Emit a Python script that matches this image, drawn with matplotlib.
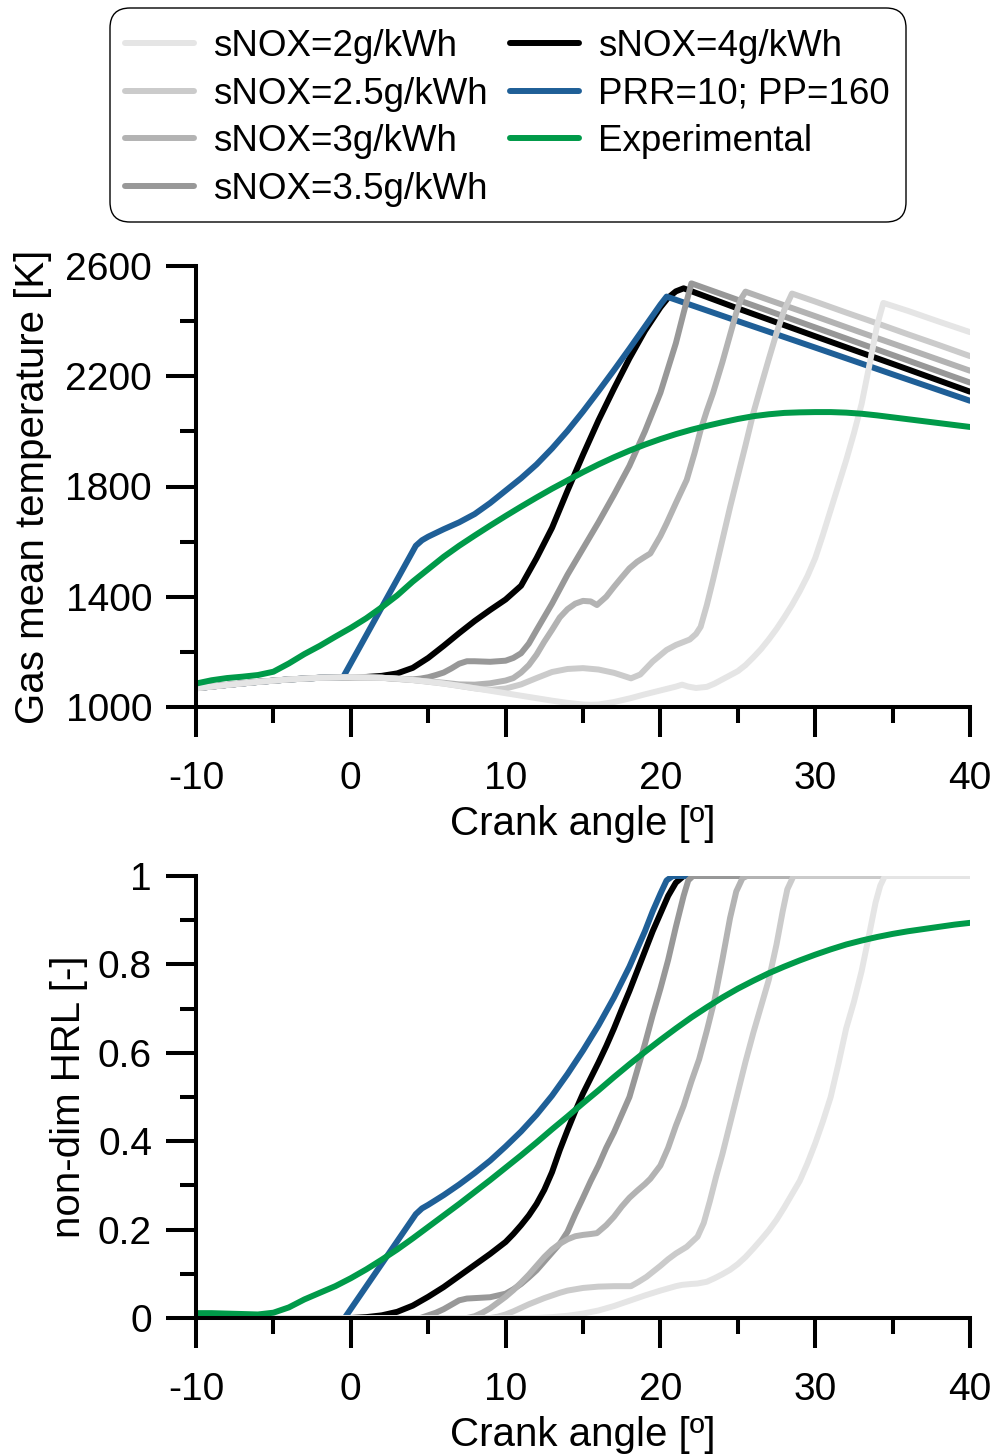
import matplotlib
matplotlib.use("Agg")
import matplotlib.pyplot as plt
from matplotlib.ticker import MultipleLocator, FixedLocator, FixedFormatter
from matplotlib.patches import FancyBboxPatch
from matplotlib.transforms import IdentityTransform

plt.rcParams['font.family'] = ['Liberation Sans', 'DejaVu Sans']
plt.rcParams['axes.unicode_minus'] = False

# ---------------- data ----------------
labels = ["sNOX=2g/kWh", "sNOX=2.5g/kWh", "sNOX=3g/kWh", "sNOX=3.5g/kWh",
          "sNOX=4g/kWh", "PRR=10; PP=160", "Experimental"]
colors = ["#e5e5e5", "#cbcbcb", "#b3b3b3", "#989898", "#000000", "#1f5f97", "#009a49"]

# Gas mean temperature [K]
ca_t_2 = [-10, -8, -6, -4, -2, 0, 2, 3, 4, 5, 6, 7, 8, 9, 10, 11, 12, 13, 14, 15, 15.5, 16, 17, 18, 19, 20, 21, 21.4, 21.8, 22.3, 23, 23.5, 24, 24.5, 25, 25.5, 26, 26.5, 27, 27.5, 28, 28.5, 29, 29.5, 30, 30.5, 31, 31.5, 32, 32.5, 33, 33.5, 34, 34.4, 36, 38, 40]
T_2 = [1068, 1080, 1091, 1100, 1106, 1108, 1106, 1103, 1098, 1092, 1085, 1077, 1068, 1059, 1050, 1041, 1032, 1023, 1015, 1009, 1008, 1009, 1018, 1031, 1046, 1060, 1074, 1081, 1074, 1069, 1073, 1085, 1100, 1115, 1130, 1152, 1180, 1210, 1245, 1283, 1325, 1370, 1420, 1475, 1540, 1625, 1715, 1805, 1895, 1993, 2100, 2240, 2385, 2466, 2437, 2398, 2360]

ca_t_25 = [-10, -8, -6, -4, -2, 0, 2, 4, 6, 8, 9, 10, 11, 12, 13, 14, 15, 16, 17, 17.5, 18.1, 18.7, 19.5, 20.4, 21, 21.5, 21.9, 22.3, 22.6, 23, 23.4, 24, 24.5, 25, 25.5, 26, 26.5, 27, 27.5, 28, 28.5, 30, 32, 34, 36, 38, 40]
T_25 = [1068, 1080, 1091, 1100, 1106, 1108, 1106, 1098, 1085, 1068, 1062, 1067, 1082, 1105, 1127, 1138, 1141, 1136, 1124, 1115, 1104, 1118, 1165, 1207, 1225, 1236, 1245, 1265, 1291, 1370, 1461, 1605, 1725, 1838, 1950, 2066, 2165, 2262, 2356, 2440, 2500, 2471, 2431, 2392, 2352, 2313, 2273]

ca_t_3 = [-10, -8, -6, -4, -2, 0, 2, 4, 6, 7, 8, 9, 10, 10.5, 11, 11.5, 12, 12.5, 13, 13.5, 14, 14.5, 15, 15.5, 15.9, 16.5, 17, 17.5, 18, 18.5, 19, 19.35, 20, 20.4, 21, 21.7, 22.2, 22.6, 23, 23.4, 24, 24.5, 24.9, 25.2, 25.5, 27, 30, 33, 36, 40]
T_3 = [1068, 1080, 1091, 1100, 1106, 1108, 1106, 1098, 1088, 1082, 1081, 1086, 1096, 1105, 1125, 1152, 1190, 1237, 1280, 1325, 1355, 1375, 1385, 1383, 1370, 1400, 1436, 1470, 1503, 1527, 1545, 1557, 1620, 1666, 1740, 1824, 1920, 2005, 2075, 2139, 2250, 2350, 2430, 2480, 2507, 2477, 2418, 2358, 2299, 2220]

ca_t_35 = [-10, -8, -6, -4, -2, 0, 2, 4, 4.5, 5, 5.5, 6, 6.5, 7, 7.5, 8, 9, 10, 10.5, 11, 11.5, 12, 13, 14, 15, 16, 17, 18, 19, 20, 20.5, 21, 21.5, 22, 25, 28, 31, 34, 37, 40]
T_35 = [1068, 1080, 1091, 1100, 1106, 1108, 1106, 1100, 1103, 1108, 1116, 1125, 1140, 1157, 1166, 1166, 1164, 1168, 1178, 1195, 1230, 1279, 1375, 1480, 1575, 1670, 1770, 1875, 2000, 2140, 2230, 2320, 2430, 2537, 2477, 2417, 2357, 2297, 2237, 2177]

ca_t_4 = [-10, -8, -6, -4, -2, 0, 1, 2, 3, 4, 5, 6, 7, 8, 9, 10, 11, 12, 13, 14, 15, 16, 17, 18, 19, 20, 20.5, 21, 21.5, 25, 30, 35, 40]
T_4 = [1068, 1080, 1091, 1100, 1106, 1108, 1109, 1113, 1122, 1142, 1178, 1222, 1268, 1312, 1352, 1390, 1440, 1540, 1650, 1785, 1915, 2040, 2155, 2265, 2365, 2450, 2485, 2508, 2519, 2446, 2345, 2245, 2144]

ca_t_p = [-10, -8, -6, -4, -2, -0.5, 4.2, 4.6, 5, 6, 7, 8, 9, 10, 11, 12, 13, 14, 15, 16, 17, 18, 19, 20, 20.4, 25, 30, 35, 40]
T_p = [1068, 1080, 1091, 1100, 1106, 1108, 1585, 1605, 1618, 1645, 1670, 1700, 1740, 1785, 1830, 1880, 1938, 2002, 2072, 2146, 2222, 2300, 2380, 2460, 2489, 2400, 2304, 2207, 2111]

ca_t_e = [-10, -9, -8, -7, -6, -5, -4, -3, -2, -1, 0, 1, 2, 3, 4, 5, 6, 7, 8, 9, 10, 11, 12, 13, 14, 15, 16, 17, 18, 19, 20, 21, 22, 23, 24, 25, 26, 27, 28, 29, 30, 31, 32, 33, 34, 35, 36, 37, 38, 39, 40]
T_e = [1085, 1097, 1105, 1110, 1116, 1128, 1158, 1192, 1222, 1255, 1287, 1322, 1362, 1405, 1455, 1500, 1545, 1585, 1622, 1658, 1693, 1727, 1760, 1792, 1822, 1852, 1880, 1906, 1930, 1952, 1972, 1990, 2006, 2020, 2033, 2045, 2055, 2062, 2067, 2069, 2070, 2070, 2068, 2064, 2058, 2051, 2044, 2037, 2030, 2023, 2016]

# non-dim HRL [-]
ca_h_2 = [-10, 12, 13, 14, 15, 16, 17, 18, 19, 20, 21, 21.4, 22, 22.4, 23, 23.5, 24, 24.5, 25, 25.5, 26, 26.5, 27, 27.5, 28, 28.5, 29, 29.5, 30, 30.5, 31, 31.5, 32, 32.5, 33, 33.5, 33.9, 34.2, 34.5, 40]
H_2 = [0, 0, 0.002, 0.005, 0.01, 0.017, 0.027, 0.039, 0.051, 0.062, 0.072, 0.075, 0.077, 0.078, 0.082, 0.09, 0.099, 0.109, 0.122, 0.138, 0.157, 0.177, 0.198, 0.222, 0.25, 0.28, 0.31, 0.35, 0.395, 0.445, 0.5, 0.575, 0.655, 0.715, 0.785, 0.87, 0.94, 0.978, 1.0, 1.0]

ca_h_25 = [-10, 9, 9.5, 10, 10.5, 11, 11.5, 12, 12.5, 13, 13.5, 14, 14.5, 15, 16, 17, 18.1, 18.6, 19.1, 20, 20.5, 21, 21.7, 22.4, 22.8, 23.2, 23.6, 24, 24.5, 25, 25.5, 26, 26.5, 27, 27.5, 27.9, 28.2, 28.6, 40]
H_25 = [0, 0, 0.003, 0.008, 0.015, 0.023, 0.031, 0.038, 0.045, 0.051, 0.057, 0.062, 0.065, 0.068, 0.071, 0.072, 0.072, 0.082, 0.093, 0.118, 0.133, 0.146, 0.161, 0.184, 0.215, 0.265, 0.32, 0.37, 0.44, 0.51, 0.58, 0.645, 0.705, 0.765, 0.845, 0.92, 0.97, 1.0, 1.0]

ca_h_3 = [-10, 7.5, 8, 8.5, 9, 9.5, 10, 10.5, 11, 11.5, 12, 12.5, 13, 13.5, 14, 14.5, 15, 15.5, 15.9, 16.5, 17, 17.5, 18, 18.5, 19, 19.35, 20, 20.5, 21, 21.5, 22, 22.5, 23, 23.5, 24, 24.5, 24.9, 25.3, 25.6, 40]
H_3 = [0, 0, 0.004, 0.012, 0.022, 0.035, 0.048, 0.063, 0.08, 0.098, 0.118, 0.138, 0.155, 0.168, 0.178, 0.185, 0.188, 0.19, 0.192, 0.21, 0.229, 0.252, 0.272, 0.288, 0.303, 0.315, 0.345, 0.385, 0.435, 0.48, 0.535, 0.585, 0.65, 0.72, 0.81, 0.905, 0.965, 0.995, 1.0, 1.0]

ca_h_35 = [-10, 4.5, 5, 5.5, 6, 6.5, 7, 7.5, 8, 9, 10, 10.5, 11, 11.5, 12, 12.5, 13, 13.5, 14, 14.5, 15, 15.5, 16, 16.5, 17, 17.5, 18, 18.5, 19, 19.5, 20, 20.5, 21, 21.5, 21.8, 22.1, 40]
H_35 = [0, 0, 0.006, 0.012, 0.02, 0.03, 0.04, 0.044, 0.045, 0.047, 0.055, 0.065, 0.077, 0.092, 0.108, 0.128, 0.148, 0.168, 0.195, 0.235, 0.272, 0.31, 0.345, 0.385, 0.42, 0.46, 0.5, 0.56, 0.62, 0.685, 0.745, 0.81, 0.885, 0.955, 0.99, 1.0, 1.0]

ca_h_4 = [-10, 0, 1, 2, 3, 4, 5, 6, 7, 8, 9, 10, 10.5, 11, 11.5, 12, 12.5, 13, 13.5, 14, 14.5, 15, 15.5, 16, 16.5, 17, 17.5, 18, 18.5, 19, 19.5, 20, 20.5, 21, 21.5, 40]
H_4 = [0, 0, 0.002, 0.006, 0.014, 0.028, 0.048, 0.07, 0.095, 0.12, 0.145, 0.172, 0.19, 0.21, 0.232, 0.258, 0.29, 0.33, 0.38, 0.425, 0.468, 0.508, 0.543, 0.578, 0.615, 0.655, 0.698, 0.74, 0.785, 0.83, 0.875, 0.915, 0.955, 0.985, 1.0, 1.0]

ca_h_p = [-10, -0.4, 4.2, 4.6, 5, 6, 7, 8, 9, 10, 11, 12, 13, 14, 15, 16, 17, 18, 19, 19.5, 20, 20.4, 20.8, 40]
H_p = [0, 0, 0.235, 0.248, 0.256, 0.278, 0.302, 0.328, 0.356, 0.388, 0.422, 0.46, 0.503, 0.552, 0.605, 0.662, 0.725, 0.795, 0.875, 0.92, 0.96, 0.99, 1.0, 1.0]

ca_h_e = [-10, -9, -8, -7, -6, -5, -4, -3, -2, -1, 0, 1, 2, 3, 4, 5, 6, 7, 8, 9, 10, 11, 12, 13, 14, 15, 16, 17, 18, 19, 20, 21, 22, 23, 24, 25, 26, 27, 28, 29, 30, 31, 32, 33, 34, 35, 36, 37, 38, 39, 40]
H_e = [0.011, 0.011, 0.010, 0.009, 0.008, 0.012, 0.024, 0.042, 0.057, 0.072, 0.09, 0.11, 0.132, 0.155, 0.18, 0.206, 0.232, 0.258, 0.285, 0.312, 0.34, 0.368, 0.397, 0.427, 0.456, 0.486, 0.515, 0.545, 0.574, 0.602, 0.629, 0.655, 0.68, 0.703, 0.725, 0.745, 0.763, 0.78, 0.795, 0.809, 0.822, 0.834, 0.845, 0.854, 0.862, 0.869, 0.875, 0.88, 0.885, 0.89, 0.894]

top_series = [(ca_t_2, T_2), (ca_t_25, T_25), (ca_t_3, T_3), (ca_t_35, T_35),
              (ca_t_4, T_4), (ca_t_p, T_p), (ca_t_e, T_e)]
bot_series = [(ca_h_2, H_2), (ca_h_25, H_25), (ca_h_3, H_3), (ca_h_35, H_35),
              (ca_h_4, H_4), (ca_h_p, H_p), (ca_h_e, H_e)]
# stacking: black & blue at the bottom, lighter greys above darker, experimental on top
zorders = [7, 6, 5, 4, 2, 3, 8]

x_ticks = [-10, 0, 10, 20, 30, 40]
t_ticks = [1000, 1400, 1800, 2200, 2600]
h_ticks = [0, 0.2, 0.4, 0.6, 0.8, 1]
h_ticklabels = ["0", "0.2", "0.4", "0.6", "0.8", "1"]

# ---------------- figure ----------------
W, H = 997, 1456
fig = plt.figure(figsize=(W / 100, H / 100), dpi=100)
ax1 = fig.add_axes([196 / W, 1 - 707 / H, 774 / W, 441 / H])
ax2 = fig.add_axes([196 / W, 1 - 1318 / H, 774 / W, 442 / H])

LW = 4.3
handles = []
for i, (xs, ys) in enumerate(top_series):
    ln, = ax1.plot(xs, ys, color=colors[i], lw=LW, zorder=zorders[i],
                   solid_capstyle='round', solid_joinstyle='round', label=labels[i])
    handles.append(ln)
for i, (xs, ys) in enumerate(bot_series):
    ax2.plot(xs, ys, color=colors[i], lw=LW, zorder=zorders[i],
             solid_capstyle='round', solid_joinstyle='round')

for ax in (ax1, ax2):
    ax.set_xlim(-10, 40)
    ax.spines['top'].set_visible(False)
    ax.spines['right'].set_visible(False)
    for s in ('left', 'bottom'):
        ax.spines[s].set_linewidth(2.9)
    ax.xaxis.set_major_locator(FixedLocator(x_ticks))
    ax.xaxis.set_minor_locator(MultipleLocator(5))
    ax.tick_params(which='major', direction='out', length=21.6, width=2.9, labelsize=28)
    ax.tick_params(which='minor', direction='out', length=11.5, width=2.9)
    ax.tick_params(axis='y', which='major', pad=10)
    ax.tick_params(axis='x', which='major', pad=17)
    ax.set_xlabel("Crank angle [º]", fontsize=29)
    ax.xaxis.set_label_coords(0.5, -0.222)
    ax.patch.set_alpha(0)
    for sp in ax.spines.values():
        sp.set_zorder(10)

ax1.set_ylim(1000, 2600)
ax1.yaxis.set_major_locator(FixedLocator(t_ticks))
ax1.yaxis.set_minor_locator(MultipleLocator(200))
ax1.set_ylabel("Gas mean temperature [K]", fontsize=29)
ax1.yaxis.set_label_coords(-0.186, 0.5)

ax2.set_ylim(0, 1)
ax2.yaxis.set_major_locator(FixedLocator(h_ticks))
ax2.yaxis.set_major_formatter(FixedFormatter(h_ticklabels))
ax2.yaxis.set_minor_locator(MultipleLocator(0.1))
ax2.set_ylabel("non-dim HRL [-]", fontsize=29)
ax2.yaxis.set_label_coords(-0.139, 0.5)

# legend (frame drawn separately so that its box matches the original)
box = FancyBboxPatch((110, H - 222), 796, 214,
                     boxstyle="round,pad=0,rounding_size=20",
                     transform=IdentityTransform(), facecolor='white',
                     edgecolor='black', linewidth=1.0, zorder=0)
fig.add_artist(box)
leg = fig.legend(handles=handles, loc='upper left', ncol=2,
                 bbox_to_anchor=(125 / W, 1 - 29 / H), bbox_transform=fig.transFigure,
                 fontsize=26.5, frameon=False, borderpad=0,
                 handlelength=1.875, handletextpad=0.52, columnspacing=0.6,
                 labelspacing=0.34, borderaxespad=0)
leg.set_zorder(5)

fig.savefig("out.png", dpi=100)
